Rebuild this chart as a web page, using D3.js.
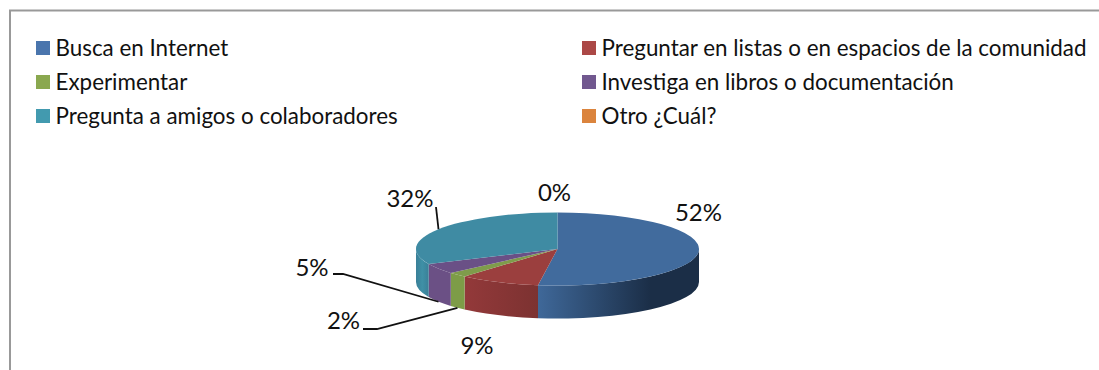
<!DOCTYPE html>
<html>
<head>
  <meta charset="UTF-8">
  <title>Busca en Internet</title>
  <style>
    html, body { margin: 0; padding: 0; background: #fff; }
    svg { display: block; }
    text { font-family: Lato, "Open Sans", sans-serif; fill: #111; }
  </style>
</head>
<body>
<svg></svg>
<script src="https://d3js.org/d3.v7.min.js"></script>
<script>

const categories = ["Busca en Internet", "Preguntar en listas o en espacios de la comunidad", "Experimentar",
    "Investiga en libros o documentación", "Pregunta a amigos o colaboradores", "Otro ¿Cuál?"];
const values = [52.2, 9.2, 2.2, 4.6, 31.8, 0];

const legendColours = ["#4a75ad", "#ab4846", "#8aa84f", "#71588f", "#429aaf", "#db843d"];
const topColours = ["#416b9d", "#9b3f3e", "#7f9c4b", "#6a5086", "#3f8ba3", "#db843d"];
const wallStops = [
    [["0%", "#3f6899"], ["70%", "#1b2e47"], ["100%", "#1b2e47"]],
    [["0%", "#93393a"], ["100%", "#7c3231"]],
    [["0%", "#7d9c47"], ["100%", "#7d9c47"]],
    [["0%", "#6b5085"], ["100%", "#6b5085"]],
    [["0%", "#3a8098"], ["50%", "#3f90a6"], ["100%", "#3a8098"]],
    [["0%", "#db843d"], ["100%", "#db843d"]]
];

let width = 1099,
    height = 370;

let svg = d3.select("svg")
    .attr("width", width)
    .attr("height", height)
    .attr("viewBox", "0 0 " + width + " " + height);

// frame, only top and left are in the crop
svg.append("path")
    .attr("d", "M10,370V10.5H1099")
    .attr("fill", "none")
    .attr("stroke", "#999")
    .attr("stroke-width", 2);

// legend
let legendX = d3.scalePoint().domain([0, 1]).range([36, 582]);
let legendY = d3.scalePoint().domain([0, 1, 2]).range([41, 109]);

let legend = svg.append("g")
    .selectAll("g")
    .data(categories)
    .enter()
    .append("g")
    .attr("transform", (d, i) => "translate(" + legendX(i % 2) + "," + legendY(Math.floor(i / 2)) + ")");

legend.append("rect")
    .attr("width", 14)
    .attr("height", 14)
    .attr("fill", (d, i) => legendColours[i]);

legend.append("text")
    .attr("x", 19.5)
    .attr("y", 14.5)
    .attr("font-size", 22.4)
    .text(d => d);

// pie geometry
const cx = 557.5, cy = 249, rx = 141.5, ry = 36.5, depth = 33;

let slices = d3.pie().sort(null)(values);

function px(a) { return cx + rx * Math.sin(a); }
function py(a) { return cy - ry * Math.cos(a); }

let defs = svg.append("defs");
wallStops.forEach((stops, i) => {
    let grad = defs.append("linearGradient").attr("id", "wall" + i);
    stops.forEach(s => grad.append("stop").attr("offset", s[0]).attr("stop-color", s[1]));
});

// walls, only the front half is seen
function wallPath(d) {
    let a0 = Math.max(d.startAngle, Math.PI / 2),
        a1 = Math.min(d.endAngle, Math.PI * 1.5);
    if (a1 <= a0) return null;
    return "M" + px(a0) + "," + py(a0)
        + "A" + rx + "," + ry + " 0 0 1 " + px(a1) + "," + py(a1)
        + "V" + (py(a1) + depth)
        + "A" + rx + "," + ry + " 0 0 0 " + px(a0) + "," + (py(a0) + depth)
        + "Z";
}

svg.append("g")
    .selectAll("path")
    .data(slices)
    .enter()
    .append("path")
    .attr("d", wallPath)
    .attr("fill", (d, i) => "url(#wall" + i + ")");

// top surface, flat arc squashed to the ellipse
svg.append("g")
    .attr("transform", "translate(" + cx + "," + cy + ") scale(1," + (ry / rx) + ")")
    .selectAll("path")
    .data(slices)
    .enter()
    .append("path")
    .attr("d", d3.arc().innerRadius(0).outerRadius(rx))
    .attr("fill", (d, i) => topColours[i]);

// labels sit by hand, like the original ones
const labelPos = [[698.5, 213], [477, 346], [343.5, 321], [312, 268], [410, 199], [554.5, 193]];

svg.append("g")
    .selectAll("text")
    .data(slices)
    .enter()
    .append("text")
    .attr("x", (d, i) => labelPos[i][0])
    .attr("y", (d, i) => labelPos[i][1])
    .attr("dy", "0.35em")
    .attr("text-anchor", "middle")
    .attr("font-size", 24)
    .text(d => Math.round(d.data) + "%");

// leader lines go to the middle of the slice rim
function midAngle(d) { return (d.startAngle + d.endAngle) / 2; }

const leaders = [
    { slice: 2, knee: [[363, 329], [377, 329]], drop: depth },
    { slice: 3, knee: [[333, 274], [343, 274]], drop: depth },
    { slice: 4, knee: [[436, 207]], drop: 0 }
];

svg.append("g")
    .selectAll("path")
    .data(leaders)
    .enter()
    .append("path")
    .attr("d", l => {
        let a = midAngle(slices[l.slice]);
        return d3.line()(l.knee.concat([[px(a), py(a) + l.drop]]));
    })
    .attr("fill", "none")
    .attr("stroke", "#111")
    .attr("stroke-width", 1.8);

</script>
</body>
</html>
